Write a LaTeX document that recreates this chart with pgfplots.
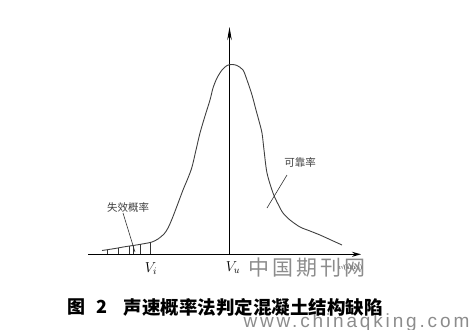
\documentclass[border=0pt]{standalone}
\usepackage{fontspec}
\setmainfont{Liberation Serif}
\newfontfamily\cjk{Noto Sans CJK SC}
\newfontfamily\wm{Liberation Sans}[LetterSpace=15]
\usepackage{pgfplots}
\pgfplotsset{compat=1.18}
\usetikzlibrary{arrows.meta}
\begin{document}
\begin{tikzpicture}
\begin{axis}[scale only axis, width=471bp, height=330bp,
  xmin=0, xmax=471, ymin=0, ymax=330, y dir=reverse,
  hide axis, clip=false, unbounded coords=jump]
% axes
\addplot[black, line width=1.3pt, -{Stealth[length=9bp,width=5bp]}] coordinates {(88,254.3) (361,254.3)};
\addplot[black, line width=0.8pt, -{Stealth[length=13bp,width=4.5bp]}] coordinates {(229.5,254.3) (229.5,27)};
% distribution curve
\addplot[black!75, line width=0.9pt, smooth] coordinates {
(102,250.5)(115,248.5)(125,246.7)(135,245.2)(145,243.5)(152,242)(158,239)(164,234)
(168,228)(172,219)(177,206)(183,190)(188,178)(192,167)(196,150)(200,133)(205,116)
(210,100)(213,88)(217,78)(222,70)(227,65.5)(232,64.5)(237,65.5)(243,70)(247,80)
(252,95)(256,110)(259,121)(262,133)(264,150)(267,173)(273,193)(278,204)(283,213)
(290,220)(300,227)(310,231)(320,235)(331,240)(342,245)};
% hatch lines (failure probability)
\addplot[black!80, line width=0.6pt] coordinates {
(107,254)(107,249.6) (nan,nan)
(118,254)(118,248) (nan,nan)
(129,254)(129,246.3) (nan,nan)
(133,254)(133,245.5) (nan,nan)
(140,254)(140,244.3) (nan,nan)
(150,254)(150,242.3)};
% pointer lines
\addplot[black!80, line width=0.6pt] coordinates {(123,213)(135,252)};
\addplot[black!80, line width=0.6pt] coordinates {(287,175)(267,208)};
% labels
\node[font=\cjk\fontsize{10.5bp}{12bp}\selectfont, text=black!75] at (axis cs:128,207) {失效概率};
\node[font=\cjk\fontsize{10.5bp}{12bp}\selectfont, text=black!75] at (axis cs:300,162) {可靠率};
\node[font=\fontsize{14bp}{16bp}\selectfont] at (axis cs:151,269) {$V_i$};
\node[font=\fontsize{14bp}{16bp}\selectfont] at (axis cs:233,268) {$V_u$};
\node[font=\fontsize{7bp}{8bp}\selectfont, text=black!80] at (axis cs:350,268) {$v$/(km/s)};
% watermarks
\node[font=\cjk\fontsize{21bp}{24bp}\selectfont, text=black!45, anchor=west] at (axis cs:245,268) {中\hspace{3bp}国\hspace{3bp}期\hspace{3bp}刊\hspace{3bp}网};
\node[font=\wm\fontsize{19bp}{22bp}\selectfont, text=black!45, anchor=west] at (axis cs:240,323) {www.chinaqking.com};
% caption
\node[font=\cjk\bfseries\fontsize{18bp}{20bp}\selectfont, anchor=west] at (axis cs:64,307) {图};
\node[font=\cjk\bfseries\fontsize{18bp}{20bp}\selectfont, anchor=west] at (axis cs:93,307) {2};
\node[font=\cjk\bfseries\fontsize{18.5bp}{20bp}\selectfont, anchor=west] at (axis cs:120,307) {声速概率法判定混凝土结构缺陷};
\end{axis}
\pgfresetboundingbox
\useasboundingbox (0,0) rectangle (471bp,330bp);
\end{tikzpicture}
\end{document}
